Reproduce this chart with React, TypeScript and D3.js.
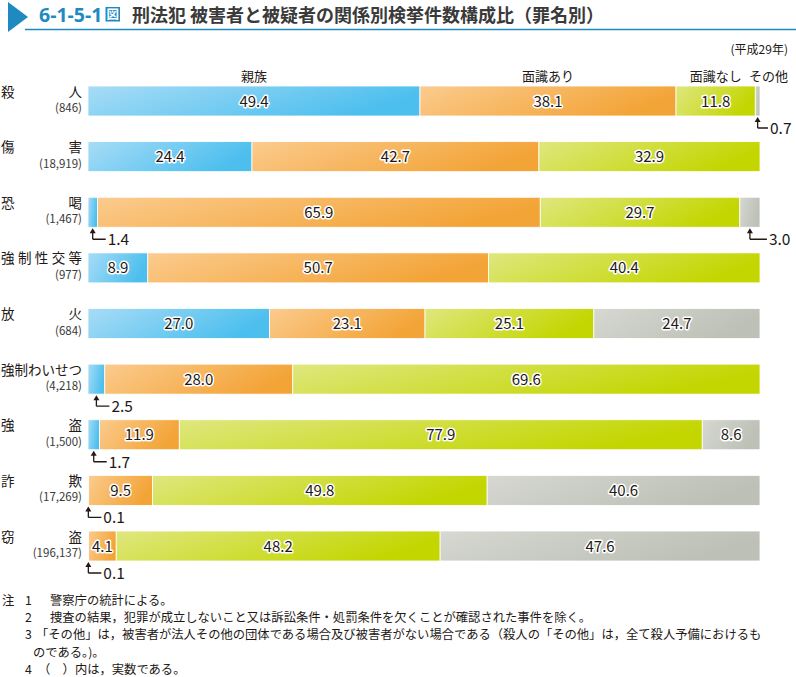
import React from 'react';
import * as d3 from 'd3';

const categories = ['殺人', '傷害', '恐喝', '強制性交等', '放火', '強制わいせつ', '強盗', '詐欺', '窃盗'];
const counts = ['(846)', '(18,919)', '(1,467)', '(977)', '(684)', '(4,218)', '(1,500)', '(17,269)', '(196,137)'];
const seriesNames = ['親族', '面識あり', '面識なし', 'その他'];
const kin = [49.4, 24.4, 1.4, 8.9, 27.0, 2.5, 1.7, 0.1, 0.1];
const acquainted = [38.1, 42.7, 65.9, 50.7, 23.1, 28.0, 11.9, 9.5, 4.1];
const notAcquainted = [11.8, 32.9, 29.7, 40.4, 25.1, 69.6, 77.9, 49.8, 48.2];
const other = [0.7, 0, 3.0, 0, 24.7, 0, 8.6, 40.6, 47.6];
const notes = [
  ['注', '1', '警察庁の統計による。'],
  ['', '2', '捜査の結果，犯罪が成立しないこと又は訴訟条件・処罰条件を欠くことが確認された事件を除く。'],
  ['', '3', '「その他」は，被害者が法人その他の団体である場合及び被害者がない場合である（殺人の「その他」は，全て殺人予備におけるも'],
  ['', '', 'のである。)。'],
  ['', '4', '（　）内は，実数である。'],
];

const W = 796;
const H = 677;
const BAR_X0 = 88;
const BAR_X1 = 760;
const BAR_H = 30;
const BLUE = '#1f8ac0';
const FONT = '"Noto Sans CJK JP", "Noto Sans", sans-serif';

const gradStops = [
  ['#a8dcf6', '#4cbfee'],
  ['#fbcb8e', '#f3a437'],
  ['#dfe77f', '#c3d600'],
  ['#d6d8d1', '#bcc0b6'],
];

type Row = { name: string; count: string; [k: string]: any };

export default function App() {
  const rows: Row[] = categories.map((c, i) => ({
    name: c,
    count: counts[i],
    k0: kin[i],
    k1: acquainted[i],
    k2: notAcquainted[i],
    k3: other[i],
  }));
  const keys = ['k0', 'k1', 'k2', 'k3'];
  const stack = d3.stack<Row>().keys(keys).offset(d3.stackOffsetExpand);
  const stacked = stack(rows);

  const x = d3.scaleLinear().domain([0, 1]).range([BAR_X0, BAR_X1]);
  const y = d3.scalePoint<string>().domain(categories).range([86, 531]);

  const labels: React.ReactNode[] = [];
  const rects: React.ReactNode[] = [];

  stacked.forEach((layer, si) => {
    layer.forEach((seg, ri) => {
      const val = rows[ri][keys[si]] as number;
      if (!val) return;
      const x0 = x(seg[0]);
      const x1 = x(seg[1]);
      const top = y(categories[ri]) as number;
      rects.push(
        <rect key={`r${si}-${ri}`} x={x0} y={top} width={Math.max(x1 - x0, 0.5)} height={BAR_H}
          fill={`url(#grad${si})`} stroke="#fff" strokeWidth={0.8} />
      );
      const cx = (x0 + x1) / 2;
      const txt = val.toFixed(1);
      if (val < 3.5) {
        const bottom = top + BAR_H;
        const ly = bottom + 12;
        const len = si === 3 ? Math.min(17, 768 - cx) : 13;
        labels.push(
          <g key={`a${si}-${ri}`}>
            <path d={`M${cx},${ly} L${cx},${bottom + 4} M${cx + len},${ly} L${cx},${ly}`} stroke="#231815" strokeWidth={1.3} fill="none" />
            <path d={`M${cx - 3},${bottom + 6} L${cx},${bottom + 1} L${cx + 3},${bottom + 6} Z`} fill="#231815" />
            <text x={cx + len + 2} y={bottom + 18} fontSize={15.5} fill="#231815" fontFamily={FONT}>{txt}</text>
          </g>
        );
      } else {
        labels.push(
          <text key={`t${si}-${ri}`} x={cx} y={top + BAR_H / 2 + 5.5} textAnchor="middle" fontSize={15}
            fontFamily={FONT} fill="#231815" stroke="#fff" strokeWidth={3} paintOrder="stroke"
            strokeLinejoin="round">{txt}</text>
        );
      }
    });
  });

  const firstTop = y(categories[0]) as number;
  const headers = seriesNames.map((s, si) => {
    const seg = stacked[si][0];
    if (si === 3) {
      return <text key={`h${si}`} x={788} y={firstTop - 5} textAnchor="end" fontSize={13} fontFamily={FONT} fill="#231815">{s}</text>;
    }
    const cx = (x(seg[0]) + x(seg[1])) / 2;
    return <text key={`h${si}`} x={cx} y={firstTop - 5} textAnchor="middle" fontSize={13} fontFamily={FONT} fill="#231815">{s}</text>;
  });

  return (
    <svg width={W} height={H} style={{ position: 'absolute', left: 0, top: 0, background: '#fff' }}
      fontFamily={FONT}>
      <defs>
        {gradStops.map((g, i) => (
          <linearGradient key={i} id={`grad${i}`} x1="0" y1="0" x2="1" y2="0.3">
            <stop offset="0" stopColor={g[0]} />
            <stop offset="1" stopColor={g[1]} />
          </linearGradient>
        ))}
      </defs>
      <rect x={0} y={0} width={W} height={H} fill="#fff" />
      <path d="M8,2 L8,32 L28,17 Z" fill={BLUE} />
      <line x1={25} x2={W} y1={29.5} y2={29.5} stroke={BLUE} strokeWidth={1.5} />
      <text x={39} y={22} fontSize={19.5} fontWeight="bold" fill={BLUE} fontFamily='"Noto Sans", sans-serif'>6-1-5-1</text>
      <rect x={105.5} y={7} width={14.5} height={14.5} fill={BLUE} />
      <text x={112.8} y={19.3} fontSize={12.5} fontWeight="bold" fill="#fff" textAnchor="middle">図</text>
      <text x={132} y={22} fontSize={18} fontWeight="bold" fill="#3a3a3a">刑法犯 被害者と被疑者の関係別検挙件数構成比（罪名別）</text>
      <text x={788} y={54} fontSize={12} textAnchor="end" fill="#231815">(平成29年)</text>
      {headers}
      {categories.map((c, i) => {
        const top = y(c) as number;
        return (
          <g key={`n${i}`}>
            <text x={1} y={top + 10.5} fontSize={13.5} fill="#231815" textLength={81} lengthAdjust="spacing">{c}</text>
            <text x={82} y={top + 26} fontSize={11.5} fill="#3a3a3a" textAnchor="end">{counts[i]}</text>
          </g>
        );
      })}
      {rects}
      {labels}
      {notes.map((n, i) => {
        const by = 605 + i * 17.2;
        return (
          <g key={`note${i}`} fontSize={12.3} fill="#231815">
            {n[0] && <text x={2} y={by}>{n[0]}</text>}
            {n[1] && <text x={25} y={by}>{n[1]}</text>}
            <text x={i === 3 ? 33 : i === 2 ? 36 : i === 4 ? 38 : 50} y={by}>{n[2]}</text>
          </g>
        );
      })}
    </svg>
  );
}
